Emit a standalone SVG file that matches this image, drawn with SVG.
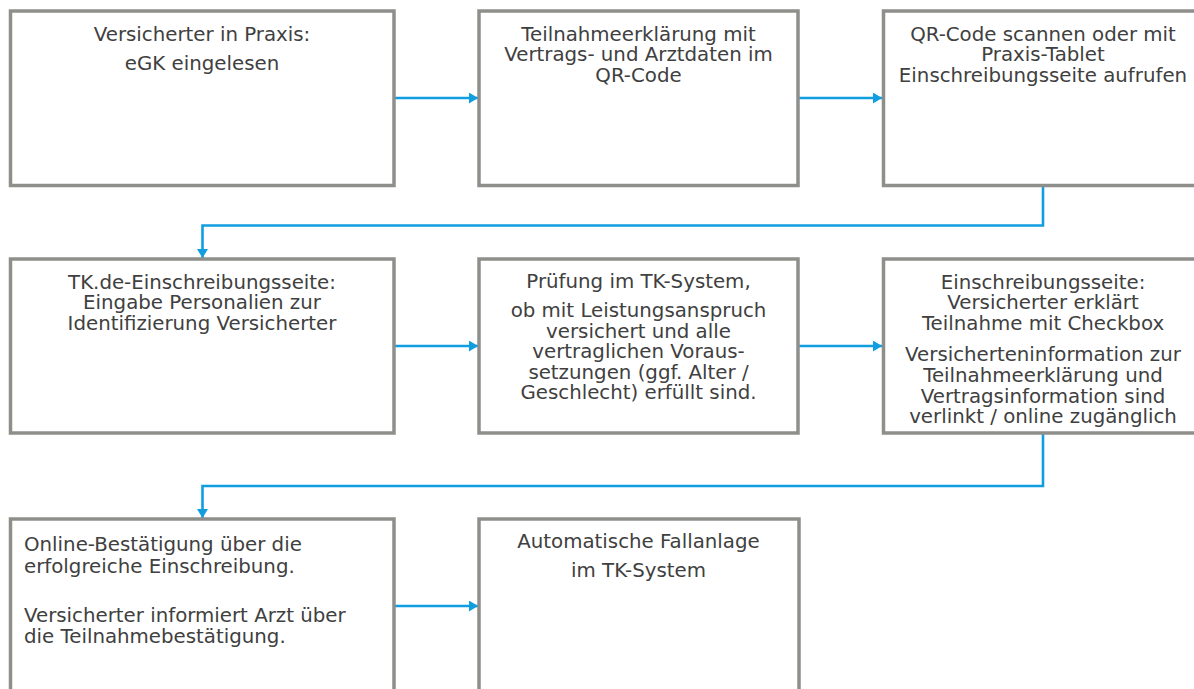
<svg xmlns="http://www.w3.org/2000/svg" width="1194" height="689" viewBox="0 0 1194 689">
<defs>
<style>
.box{fill:#ffffff;stroke:#8e8e8a;stroke-width:3.5}
.t{font-family:"DejaVu Sans","Verdana",sans-serif;font-size:19.8px;fill:#404040}
.c{text-anchor:middle}
.con{fill:none;stroke:#119ee0;stroke-width:2.6;marker-end:url(#ah)}
</style>
<marker id="ah" markerUnits="userSpaceOnUse" markerWidth="10" markerHeight="12" refX="9" refY="5.5" orient="auto">
<path d="M0,0 L9,5.5 L0,11 z" fill="#119ee0"/>
</marker>
</defs>
<rect width="1194" height="689" fill="#ffffff"/>
<g id="connectors">
<path class="con" d="M394,98 L478,98"/>
<path class="con" d="M798,98 L882,98"/>
<path class="con" d="M1043,186 L1043,225.5 L202.5,225.5 L202.5,258"/>
<path class="con" d="M394,346 L478,346"/>
<path class="con" d="M798,346 L882,346"/>
<path class="con" d="M1043,433 L1043,486 L202.5,486 L202.5,518"/>
<path class="con" d="M394,606 L478,606"/>
</g>
<g id="n1">
<rect class="box" x="10.5" y="11" width="383.5" height="174.5"/>
<text class="t c" x="202" y="40.5">Versicherter in Praxis:</text>
<text class="t c" x="202" y="70">eGK eingelesen</text>
</g>
<g id="n2">
<rect class="box" x="479" y="11" width="319" height="174.5"/>
<text class="t c" x="638.5" y="40.5">Teilnahmeerklärung mit</text>
<text class="t c" x="638.5" y="61">Vertrags- und Arztdaten im</text>
<text class="t c" x="638.5" y="81.5">QR-Code</text>
</g>
<g id="n3">
<rect class="box" x="883.5" y="11" width="320" height="174.5"/>
<text class="t c" x="1043" y="40.5">QR-Code scannen oder mit</text>
<text class="t c" x="1043" y="61">Praxis-Tablet</text>
<text class="t c" x="1043" y="81.5">Einschreibungsseite aufrufen</text>
</g>
<g id="n4">
<rect class="box" x="10.5" y="259" width="383.5" height="174"/>
<text class="t c" x="202" y="288.5">TK.de-Einschreibungsseite:</text>
<text class="t c" x="202" y="309">Eingabe Personalien zur</text>
<text class="t c" x="202" y="329.5">Identifizierung Versicherter</text>
</g>
<g id="n5">
<rect class="box" x="479" y="259" width="319" height="174"/>
<text class="t c" x="638.5" y="287.5">Prüfung im TK-System,</text>
<text class="t c" x="638.5" y="317">ob mit Leistungsanspruch</text>
<text class="t c" x="638.5" y="337.5">versichert und alle</text>
<text class="t c" x="638.5" y="358">vertraglichen Voraus-</text>
<text class="t c" x="638.5" y="378.5">setzungen (ggf. Alter /</text>
<text class="t c" x="638.5" y="399">Geschlecht) erfüllt sind.</text>
</g>
<g id="n6">
<rect class="box" x="883.5" y="259" width="320" height="174"/>
<text class="t c" x="1043" y="288.5">Einschreibungsseite:</text>
<text class="t c" x="1043" y="309.3">Versicherter erklärt</text>
<text class="t c" x="1043" y="330">Teilnahme mit Checkbox</text>
<text class="t c" x="1043" y="361">Versicherteninformation zur</text>
<text class="t c" x="1043" y="381.7">Teilnahmeerklärung und</text>
<text class="t c" x="1043" y="402.5">Vertragsinformation sind</text>
<text class="t c" x="1043" y="423.3">verlinkt / online zugänglich</text>
</g>
<g id="n7">
<rect class="box" x="10.5" y="519" width="383.5" height="190"/>
<text class="t" x="24" y="551">Online-Bestätigung über die</text>
<text class="t" x="24" y="572.7">erfolgreiche Einschreibung.</text>
<text class="t" x="24" y="621.5">Versicherter informiert Arzt über</text>
<text class="t" x="24" y="643.3">die Teilnahmebestätigung.</text>
</g>
<g id="n8">
<rect class="box" x="479" y="519" width="320" height="190"/>
<text class="t c" x="638.5" y="548.3">Automatische Fallanlage</text>
<text class="t c" x="638.5" y="577.3">im TK-System</text>
</g>
</svg>
